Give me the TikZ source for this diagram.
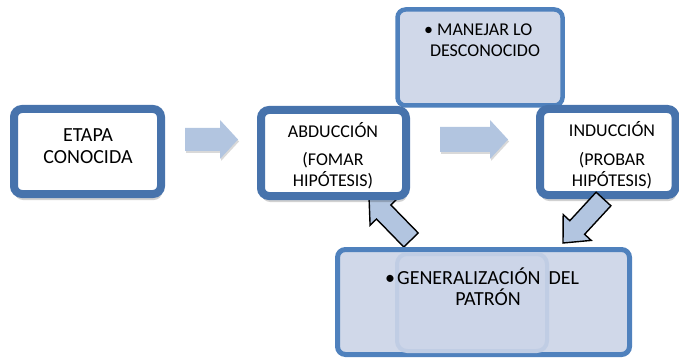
\documentclass[tikz,border=0pt]{standalone}
\usepackage{fontspec}
\setmainfont{Carlito}
\usetikzlibrary{shadows}
\definecolor{bdark}{RGB}{71,115,172}
\definecolor{bmid}{RGB}{79,129,189}
\definecolor{bfill}{RGB}{208,216,233}
\definecolor{afill}{RGB}{178,197,224}
\definecolor{gfill}{RGB}{204,213,232}
\definecolor{gline}{RGB}{192,205,228}
\begin{document}
\begin{tikzpicture}[x=1pt,y=-1pt,
  whitebox/.style={draw=bdark, line width=8pt, fill=white, rounded corners=8pt,
    inner sep=0pt, outer sep=0pt,
    drop shadow={shadow xshift=1pt, shadow yshift=-6pt, opacity=0.18, fill=black}},
  bluebox/.style={draw=bmid, line width=4.5pt, fill=bfill, rounded corners=8pt,
    inner sep=0pt, outer sep=0pt},
  ghostbox/.style={draw=gline, line width=4pt, fill=gfill,
    rounded corners=10pt, inner sep=0pt, outer sep=0pt},
  flatarrow/.style={fill=afill, draw=none,
    drop shadow={shadow xshift=1pt, shadow yshift=-2pt, opacity=0.15, fill=black}},
  linedarrow/.style={fill=afill, draw=black, line width=1.4pt, line join=miter},
  lbl/.style={inner sep=0pt, anchor=base, font=\fontsize{18}{21}\selectfont},
  biglbl/.style={inner sep=0pt, anchor=base, font=\fontsize{20}{23}\selectfont},
  bulletlbl/.style={inner sep=0pt, anchor=base west, font=\fontsize{18}{21}\selectfont},
  bigbulletlbl/.style={inner sep=0pt, anchor=base west, font=\fontsize{20}{23}\selectfont}
]
\useasboundingbox (0,0) rectangle (679,358);

% top box: MANEJAR LO DESCONOCIDO
\node[bluebox, minimum width=165pt, minimum height=96pt] (m) at (480,57.5) {};

% horizontal block arrows
\path[flatarrow] (185,128) -- (220,128) -- (220,120) -- (238,139.5) -- (220,159) -- (220,151) -- (185,151) -- cycle;
\path[flatarrow] (440,127) -- (490,127) -- (490,120) -- (508,139.5) -- (490,159) -- (490,152) -- (440,152) -- cycle;

% up-left block arrow (under ABDUCCION box)
\path[linedarrow] (418.2,233.0) -- (390.9,205.0) -- (397.3,198.7) -- (369,197) -- (370.1,225.3) -- (376.5,219.0) -- (403.8,247.0) -- cycle;

% white boxes
\node[whitebox, minimum width=147pt, minimum height=85pt] (b1) at (87.5,151.5) {};
\node[whitebox, minimum width=145pt, minimum height=86pt] (b2) at (333.5,153) {};
\node[whitebox, minimum width=135.5pt, minimum height=86pt] (b3) at (607.75,152) {};

% down-left block arrow
\path[linedarrow] (610.9,205.8) -- (584.6,234.3) -- (591.2,240.4) -- (563,243) -- (563.2,214.6) -- (569.8,220.7) -- (596.1,192.2) -- cycle;

% bottom box
\node[bluebox, line width=5pt, minimum width=292pt, minimum height=105pt] (g) at (483.5,302) {};
\node[ghostbox, minimum width=150pt, minimum height=97pt] (gh) at (472,302.5) {};

% texts
\node[biglbl] (t1a) at (88,141.5) {ETAPA};
\node[biglbl] (t1b) at (88,164) {CONOCIDA};

\node[lbl] (t2a) at (333,137.5) {ABDUCCIÓN};
\node[lbl] (t2b) at (333,166) {(FOMAR};
\node[lbl] (t2c) at (333,186) {HIPÓTESIS)};

\node[lbl] (t3a) at (612,137) {INDUCCIÓN};
\node[lbl] (t3b) at (612,166) {(PROBAR};
\node[lbl] (t3c) at (612,186) {HIPÓTESIS)};

\node[bulletlbl] (tma) at (424,36) {•\hspace{4pt}MANEJAR LO};
\node[lbl] (tmb) at (485,57) {DESCONOCIDO};

\node[bigbulletlbl] (tga) at (385,284) {•\hspace{2pt}GENERALIZACIÓN\hspace{0.4em}DEL};
\node[biglbl] (tgb) at (488,305) {PATRÓN};
\end{tikzpicture}
\end{document}
